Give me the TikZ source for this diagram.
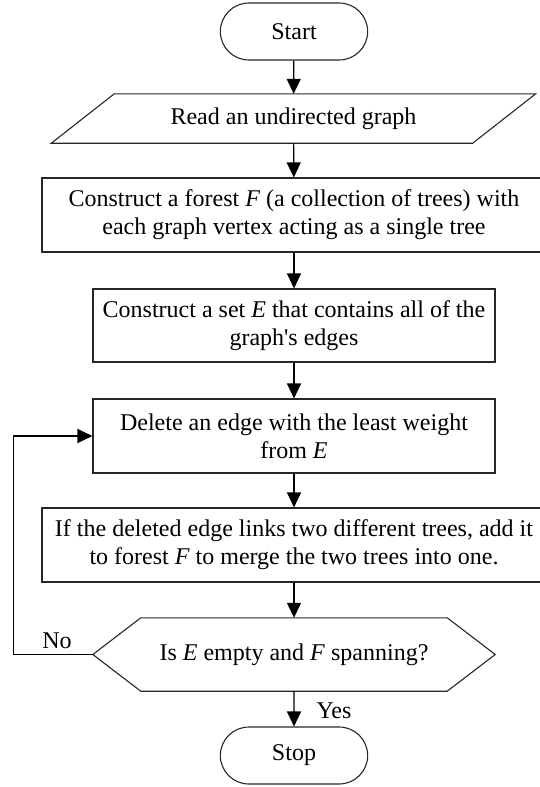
\documentclass[tikz,border=0pt]{standalone}
\usepackage{fontspec}
\setmainfont{Liberation Serif}[Ligatures=TeXOff]
\usetikzlibrary{arrows.meta,shapes.misc,calc}
\begin{document}
\begin{tikzpicture}[x=1pt,y=-1pt,
  every node/.style={font=\fontsize{24}{28}\selectfont, text=black},
  shapeline/.style={draw=black!85, line width=1.1pt},
  term/.style={rounded rectangle, shapeline, minimum width=154pt, minimum height=57pt},
  proc/.style={rectangle, shapeline, align=center, minimum height=74pt},
  ghost/.style={rectangle, align=center, inner sep=0pt},
  conn/.style={draw=black, line width=1.2pt, -{Triangle[width=14pt,length=15pt]}},
]
\useasboundingbox (0,0) rectangle (539,787);

\node[term] (start) at (294,31.5) {Start};

\node[ghost, minimum width=421pt, minimum height=49pt] (read) at (293.5,118.5) {Read an undirected graph};
\draw[shapeline] ($(read.south west)+(-31.5,0)$) -- ($(read.north west)+(31.5,0)$) -- ($(read.north east)+(31.5,0)$) -- ($(read.south east)+(-31.5,0)$) -- cycle;

\node[proc, minimum width=504pt] (forest) at (294,215) {Construct a forest \textit{F} (a collection of trees) with\\each graph vertex acting as a single tree};

\node[proc, minimum width=402pt, minimum height=73pt] (setE) at (294,325.5) {Construct a set \textit{E} that contains all of the\\graph's edges};

\node[proc, minimum width=402pt] (del) at (294,436) {Delete an edge with the least weight\\from \textit{E}};

\node[proc, minimum width=504pt] (merge) at (294,545) {If the deleted edge links two different trees, add it\\to forest \textit{F} to merge the two trees into one.};

\node[ghost, minimum width=402pt, minimum height=73pt] (test) at (294,654.5) {Is \textit{E} empty and \textit{F} spanning?};
\draw[shapeline] (test.west) -- ($(test.north west)+(48,0)$) -- ($(test.north east)+(-48,0)$) -- (test.east) -- ($(test.south east)+(-48,0)$) -- ($(test.south west)+(48,0)$) -- cycle;

\node[term] (stop) at (294,755.5) {Stop};

\draw[conn] (start) -- (read);
\draw[conn] (read) -- (forest);
\draw[conn] (forest) -- (setE);
\draw[conn] (setE) -- (del);
\draw[conn] (del) -- (merge);
\draw[conn] (merge) -- (test);
\draw[conn] (test) -- (stop);
\draw[conn] (test.west) -- ++(-79,0) |- (del.west);

\node[anchor=base] (nolbl) at (57,648) {No};
\node[anchor=base west] (yeslbl) at (313,718) {Yes};
\end{tikzpicture}
\end{document}
